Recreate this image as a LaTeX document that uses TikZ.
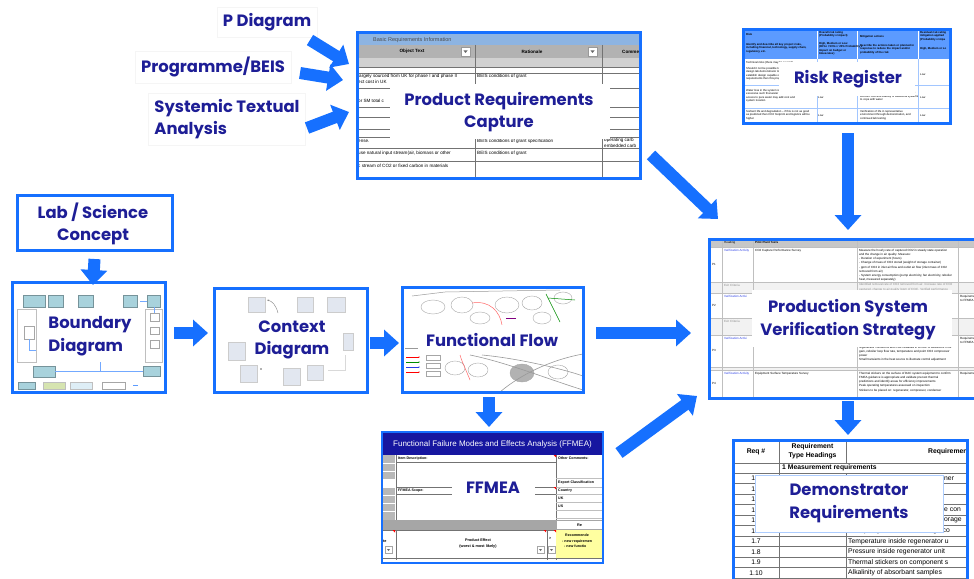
\documentclass[tikz,border=0pt]{standalone}
\usepackage{fontspec}
\setmainfont{Liberation Sans}
\newfontfamily\lblf{Poppins}
\usetikzlibrary{arrows.meta}
\definecolor{fblue}{RGB}{22,112,255}
\definecolor{navy}{RGB}{30,30,150}
\definecolor{hblue}{RGB}{141,180,226}
\definecolor{tealb}{RGB}{168,210,220}
\definecolor{greenb}{RGB}{214,228,176}
\definecolor{cyanb}{RGB}{222,238,246}
\definecolor{ffbar}{RGB}{22,22,160}
\definecolor{ctxb}{RGB}{226,231,240}
\definecolor{yel}{RGB}{255,255,160}
\definecolor{lnk}{RGB}{40,60,230}
\newcommand\fsz[2]{\fontsize{#1}{#2}\selectfont}
\begin{document}
\begin{tikzpicture}[x=1pt,y=-1pt,
  scr/.style={draw=fblue,line width=3pt,inner sep=0pt,outer sep=0pt,anchor=north west},
  lbl/.style={font=\lblf\bfseries\fsz{16.4}{22.5}, text=navy, align=center, inner sep=0pt},
  side/.style={lbl, fill=white, draw=black!4, line width=0.5pt, inner sep=6pt},
  fat/.style={draw=fblue,line width=12pt,-{Triangle[length=15pt,width=26pt]}},
  tx/.style={font=\fsz{4}{4.8}, inner sep=0pt, anchor=west, align=left},
  gl/.style={draw=black!55,line width=0.5pt},
  ll/.style={draw=black!25,line width=0.4pt},
  tb/.style={fill=tealb,draw=tealb!70!black,line width=0.3pt},
  wb/.style={fill=white,draw=black!35,line width=0.3pt},
  cb/.style={fill=ctxb,draw=black!20,line width=0.3pt},
  ov/.style={draw=black!35,line width=0.4pt},
]
\useasboundingbox (0,0) rectangle (974,578);
\clip (0,0) rectangle (974,578);
\fill[white] (0,0) rectangle (974,578);

% ---------- side labels ----------
\node[side] (pd) at (267,22) {P Diagram};
\node[side] (pb) at (213,67) {Programme/BEIS};
\node[side, align=left] (sta) at (227,119) {Systemic Textual\\Analysis};

% ---------- Product Requirements Capture ----------
\begin{scope}
\clip (357,33) rectangle (640,178);
\fill[white] (357,33) rectangle (640,178);
\fill[hblue] (357,34) rectangle (640,45);
\node[tx, font=\fsz{5.5}{6}, text=black!70] at (373,40) {Basic Requirements Information};
\fill[black!30] (357,45) rectangle (640,58);
\fill[black!18] (357,58) rectangle (640,67);
\node[tx, anchor=center, font=\bfseries\fsz{4.6}{5}] at (412,51.5) {Object Text};
\node[tx, anchor=center, font=\bfseries\fsz{4.6}{5}] at (532,51.5) {Rationale};
\node[tx, font=\bfseries\fsz{4.6}{5}] at (622,51.5) {Comments};
\foreach \xx in {461,588}{
  \filldraw[fill=white,draw=black!40,line width=0.3pt] (\xx,47) rectangle ++(9,9);
  \fill[black!60] (\xx+2.5,50.5) -- ++(4,0) -- ++(-2,2.5) -- cycle;}
\draw[gl] (475,45) -- (475,178);
\draw[gl] (602,45) -- (602,178);
\foreach \yy in {67,73,88,107,117,129,137,148,161}{\draw[gl] (357,\yy) -- (640,\yy);}
\node[tx, font=\fsz{4.6}{6.5}, anchor=north west] at (358,73.5) {largely sourced from UK for phase I and phase II\\ect cost in UK};
\node[tx, font=\fsz{4.6}{5}] at (477,76) {BEIS conditions of grant};
\node[tx, font=\fsz{4.6}{5}] at (358,101) {or SM total c};
\node[tx, font=\fsz{4.6}{5}] at (358,141) {ense.};
\node[tx, font=\fsz{4.6}{5}] at (477,141) {BEIS conditions of grant specification};
\node[tx, font=\fsz{4.6}{6}, anchor=north west] at (604,138) {operating carb\\embedded carb};
\node[tx, font=\fsz{4.6}{5}] at (358,153) {use natural input stream(air, biomass or other};
\node[tx, font=\fsz{4.6}{5}] at (477,153) {BEIS conditions of grant};
\node[tx, font=\fsz{4.6}{5}] at (358,166) {c stream of CO2 or fixed carbon in materials};
\fill[white] (390,84) rectangle (610,139);
\end{scope}
\node[scr, minimum width=283pt, minimum height=145pt] (prc) at (357,33) {};
\node[lbl] (prcl) at (499,112) {Product Requirements\\Capture};

% ---------- Risk Register ----------
\begin{scope}
\clip (743,30) rectangle (950,123);
\fill[white] (743,30) rectangle (950,123);
\fill[fblue!70] (743,30) rectangle (950,59);
\foreach \xx in {817,857,918}{\draw[white,line width=0.5pt] (\xx,30) -- (\xx,59); \draw[fblue!40,line width=0.4pt] (\xx,59) -- (\xx,123);}
\foreach \yy in {85,108}{\draw[fblue!40,line width=0.4pt] (743,\yy) -- (950,\yy);}
\begin{scope}[every node/.style={tx, font=\fsz{2.8}{3.5}, anchor=north west}]
\node at (746,33) {\bfseries Risk};
\node at (746,43) {\bfseries Identify and describe all key project risks,\\\bfseries including financial, technology, supply chain,\\\bfseries regulatory, etc.};
\node at (819,31) {\bfseries Overall risk rating\\\bfseries (Probability x Impact)};
\node at (819,42) {\bfseries High, Medium or Low\\\bfseries (80\%+ / 50\%+ / 20\% Probability x\\\bfseries Impact on budget or\\\bfseries timescales)};
\node at (860,35) {\bfseries Mitigation actions};
\node at (860,44) {\bfseries Describe the actions taken or planned in\\\bfseries response to reduce the impact and/or\\\bfseries probability of the risk};
\node at (920,31) {\bfseries Residual risk rating\\\bfseries mitigation applied\\\bfseries (Probability x Impa};
\node at (920,47) {\bfseries High, Medium or Lo};
\node at (746,61) {Technical risks (there may be several)};
\node at (746,67) {Should it not be possible to\\design lab demonstrator to\\establish design capable of\\requirements then this progr};
\node at (920,73) {Low};
\node at (746,89) {Water loss in the system is\\excessive such that water may\\access to pure water may add cost and\\system location};
\node at (818,96) {Low};
\node at (860,88) {Less water loss system, which can be\\validated as part of the Phase 2 testing; take\\account cost and viability of additional systems\\to cope with water};
\node at (920,96) {Low};
\node at (746,110) {Sorbent life and degradation -- if this is not as good\\as predicted then CO2 footprint and logistics will be\\higher};
\node at (818,114) {Low};
\node at (860,110) {Verification of life in representative\\environment through demonstration, and\\continued lab testing};
\node at (920,114) {Low};
\end{scope}
\fill[white] (779,62) rectangle (915,96);
\end{scope}
\node[scr, minimum width=207pt, minimum height=93pt] (rr) at (743,30) {};
\node[lbl] (rrl) at (848,79) {Risk Register};

% ---------- Lab / Science Concept ----------
\node[scr, minimum width=155pt, minimum height=55pt] (lab) at (17,195) {};
\node[lbl] (labl) at (93,224) {Lab / Science\\Concept};

% ---------- Boundary Diagram ----------
\begin{scope}
\clip (12,282) rectangle (165,392);
\fill[white] (12,282) rectangle (165,392);
\draw[tb] (23,295) rectangle (45,307);
\draw[tb] (48,295) rectangle (63,307);
\draw[tb] (78,295) rectangle (93,307);
\draw[tb] (123,295) rectangle (137,307);
\draw[tb] (147,295) rectangle (160,307);
\draw[ll] (17,309) rectangle (36,362);
\draw[ll] (145,309) rectangle (162,362);
\draw[wb] (24,326) rectangle (34,339);
\draw[wb] (150,313) rectangle (159,321);
\draw[wb] (150,327) rectangle (159,334);
\draw[wb] (150,340) rectangle (159,348);
\draw[tb] (33,366) rectangle (55,377);
\draw[tb] (143,366) rectangle (160,376);
\draw[fblue!60,line width=0.4pt] (55,371) -- (143,371);
\draw[fblue!60,line width=0.4pt] (100,362) -- (100,371);
\draw[fblue!60,line width=0.4pt] (154,307) -- (154,313);
\draw[fblue!60,line width=0.4pt] (140,301) -- (147,301);
\draw[fblue!60,line width=0.4pt] (29,339) -- (29,350) -- (36,350);
\draw[tb] (18,382) rectangle (35,389);
\draw[fill=greenb,draw=black!25,line width=0.3pt] (43,382) rectangle (65,389);
\draw[fill=cyanb,draw=black!25,line width=0.3pt] (70,382) rectangle (92,389);
\draw[wb] (102,382) rectangle (125,389);
\draw[fblue!70,line width=0.6pt] (133,385.5) -- (138,385.5);
\fill[white] (38,312) rectangle (132,357);
\end{scope}
\node[scr, minimum width=153pt, minimum height=110pt] (bd) at (12,282) {};
\node[lbl, align=left] (bdl) at (90,336) {Boundary\\Diagram};

% ---------- Context Diagram ----------
\begin{scope}
\clip (214,288) rectangle (367,392);
\fill[white] (214,288) rectangle (367,392);
\draw[cb] (248,297) rectangle (265,312);
\draw[cb] (297,297) rectangle (313,312);
\draw[cb] (327,297) rectangle (345,312);
\draw[cb] (343,333) rectangle (353,350);
\draw[cb] (228,342) rectangle (245,360);
\draw[cb] (240,365) rectangle (257,382);
\draw[cb] (283,368) rectangle (300,385);
\draw[cb] (307,365) rectangle (323,380);
\draw[black!50,line width=0.4pt,-{Stealth[length=2pt]}] (278,313) .. controls (276,305) and (272,301) .. (267,300);
\draw[black!15,line width=1pt] (328,370) -- (345,370) -- (345,355);
\fill[black!60] (261,369) circle (0.8);
\fill[white] (248,318) rectangle (334,361);
\end{scope}
\node[scr, minimum width=153pt, minimum height=104pt] (cd) at (214,288) {};
\node[lbl] (cdl) at (292,340) {Context\\Diagram};

% ---------- Functional Flow ----------
\begin{scope}
\clip (402,287) rectangle (583,392);
\fill[white] (402,287) rectangle (583,392);
\draw[ov] (433,307) ellipse (12 and 7);
\draw[ov] (462,305) ellipse (11 and 8);
\draw[ov] (507,305) ellipse (12 and 8);
\draw[ov] (532,303) ellipse (10 and 7);
\draw[ov] (563,298) ellipse (9 and 6);
\draw[ov] (542,318) ellipse (9 and 6);
\draw[ov] (480,318) ellipse (10 and 6);
\draw[ov] (455,368) ellipse (10 and 7);
\draw[ov] (478,370) ellipse (10 and 7);
\draw[ov, fill=black!30] (522,373) ellipse (12 and 9);
\draw[ov] (558,372) ellipse (10 and 7);
\draw[red!60,line width=0.5pt] (472,303) .. controls (490,300) and (500,312) .. (502,325);
\draw[red!60,line width=0.5pt] (460,355) .. controls (462,362) and (466,370) .. (470,380);
\draw[green!55!black,line width=0.5pt] (546,294) -- (560,322);
\draw[green!55!black,line width=0.5pt] (548,298) -- (575,300);
\draw[violet,line width=0.5pt] (506,318) -- (516,318);
\draw[black!40,line width=0.5pt] (412,296) -- (445,292) -- (560,290);
\draw[black!40,line width=0.6pt] (470,355) .. controls (505,362) and (545,378) .. (583,390);
\draw[black!40,line width=0.6pt] (482,355) .. controls (515,358) and (560,368) .. (583,376);
\draw[black!40,line width=0.6pt] (500,392) .. controls (520,375) and (550,360) .. (583,354);
\draw[black!40,line width=0.4pt] (405,348) -- (420,348);
\foreach \yy/\cc in {357/red,362/green!55!black,367/lnk,372/red}{\draw[\cc,line width=0.4pt,-{Stealth[length=1.5pt]}] (406,\yy) -- (420,\yy);}
\foreach \yy in {358,366,374}{\draw[ov] (426,\yy-2.5) rectangle (440,\yy+2.5);}
\fill[white] (418,325) rectangle (572,353);
\end{scope}
\node[scr, minimum width=181pt, minimum height=105pt] (ff) at (402,287) {};
\node[lbl] (ffl) at (492,340) {Functional Flow};

% ---------- FFMEA ----------
\begin{scope}
\clip (382,432) rectangle (603,563);
\fill[white] (382,432) rectangle (603,563);
\fill[ffbar] (382,432) rectangle (603,455);
\node[font=\fsz{8}{9}, text=white, inner sep=0pt] at (492.5,444) {Functional Failure Modes and Effects Analysis (FFMEA)};
\fill[black!28] (382,455) rectangle (395,530);
\foreach \yy in {463,471,479,487,495,503,511}{\draw[white,line width=0.6pt] (382,\yy) -- (395,\yy);}
\fill[white] (382,479) rectangle (395,487);
\draw[gl] (396,455) -- (396,560);
\draw[gl] (556,455) -- (556,560);
\draw[gl] (396,462) -- (556,462);
\draw[gl] (396,487) -- (452,487); \draw[gl] (396,494) -- (452,494);
\draw[gl] (535,487) -- (556,487); \draw[gl] (535,494) -- (556,494);
\foreach \yy in {478,487,494,502,510,518}{\draw[ll] (556,\yy) -- (603,\yy);}
\node[tx, font=\bfseries\fsz{3.6}{4}] at (398,458.5) {Item Description:};
\node[tx, font=\bfseries\fsz{3.6}{4}] at (398,491) {FFMEA Scope:};
\node[tx, font=\bfseries\fsz{3.6}{4}] at (558,458.5) {Other Comments:};
\node[tx, font=\bfseries\fsz{3.6}{4}] at (558,482.5) {Export Classification};
\node[tx, font=\bfseries\fsz{3.6}{4}] at (558,490.5) {Country};
\node[tx, font=\bfseries\fsz{3.6}{4}] at (558,498) {UK};
\node[tx, font=\bfseries\fsz{3.6}{4}] at (558,506) {US};
\fill[black!35] (382,520) rectangle (603,530);
\fill[white] (557,521) rectangle (603,529);
\node[tx, font=\bfseries\fsz{3.8}{4}] at (577,525) {Re};
\draw[gl] (382,530) -- (603,530);
\draw[gl] (547,530) -- (547,560);
\draw[gl] (382,558) -- (603,558);
\fill[yel] (556.3,530.3) rectangle (603,557.7);
\node[tx, font=\bfseries\fsz{3.8}{4}] at (383,541) {te};
\node[font=\bfseries\fsz{3.8}{5.5}, align=center, inner sep=0pt] at (478,543.5) {Product Effect\\(worst \& most likely)};
\node[tx, font=\bfseries\fsz{3.6}{5.5}, anchor=north west] at (562,534) {~~~Recommende\\- new requiremen\\~~- new functio};
\foreach \xx/\yy in {385/546,537/546,548/546}{\filldraw[fill=white,draw=black!35,line width=0.3pt] (\xx,\yy) rectangle ++(7,7); \fill[black!60] (\xx+2,\yy+3) -- ++(3,0) -- ++(-1.5,2) -- cycle;}
\node[tx, font=\bfseries\fsz{3.6}{4}] at (549,538) {>};
\foreach \xx/\yy in {395/530,546/530,556/530,556/455,556/487}{\fill[red] (\xx-2.5,\yy) -- (\xx,\yy) -- (\xx,\yy+2.5) -- cycle;}
\fill[white] (452,478) rectangle (535,500);
\end{scope}
\node[draw=fblue, line width=2pt, inner sep=0pt, outer sep=0pt, anchor=north west, minimum width=221pt, minimum height=131pt] (fm) at (382,432) {};
\node[lbl] (fml) at (493,488) {FFMEA};

% ---------- Production System Verification Strategy ----------
\begin{scope}
\clip (709,239) rectangle (974,398);
\fill[white] (709,239) rectangle (974,398);
\fill[black!22] (709,239) rectangle (974,247);
\fill[black!5] (709,282) rectangle (974,293);
\fill[black!5] (709,318) rectangle (974,335);
\fill[black!5] (709,367) rectangle (974,370);
\foreach \xx in {722,753,857,958}{\draw[ll] (\xx,239) -- (\xx,398);}
\foreach \yy in {247,282,293,318,335,367,370}{\draw[ll] (709,\yy) -- (974,\yy);}
\begin{scope}[every node/.style={tx, font=\fsz{3}{4.2}, anchor=north west}]
\node at (724,241.5) {Heading};
\node at (755,241.5) {\bfseries Pilot Plant Tests};
\node at (712,263) {P1}; \node at (712,304) {P2}; \node at (712,349) {P3}; \node at (712,382) {P4};
\node[text=lnk] at (724,249) {Verification Activity};
\node at (755,249) {CO2 Capture Performance Survey};
\node at (859,249) {Measure the hourly rate of captured CO2 in steady state operation\\and the change in air quality. Measure:\\- Duration of experiment (hours)\\- Change of mass of CO2 stored (weight of storage container)\\- ppm of CO2 in inlet air flow and outlet air flow (inlet mass of CO2\\removed from air)\\- System energy consumption (pump electricity, fan electricity, reboiler\\heat, measured separately)};
\node[text=black!45] at (724,284) {Exit Criteria};
\node[text=black!45] at (859,283.5) {Identified removal rate of CO2 removed from air. Increase rate of CO2\\captured, change to air quality (ppm of CO2). Verified performance};
\node[text=lnk] at (724,295) {Verification Activi};
\node at (960,295) {Requireme\\to FFMEA};
\node[text=black!45] at (724,320) {Exit Criteria};
\node[text=lnk] at (724,337) {Verification Activi};
\node at (960,337) {Requireme\\to FFMEA};
\node at (859,346) {regenerator conditions and CO2 released in a DAC of absorbent CO2\\gain, reboiler loop flow rate, temperature and point CO2 compressor\\power\\Small transients in the heat source to illustrate control adjustment};
\node[text=lnk] at (724,372) {Verification Activity};
\node at (755,372) {Equipment Surface Temperature Survey};
\node at (859,372) {Thermal stickers on the surface of DAC system equipment to confirm\\FMEA guidance is appropriate and validate pre-test thermal\\predictions and identify areas for efficiency improvements\\Peak operating temperatures assessed on inspection\\Stickers to be placed on: regenerator, compressor, condenser};
\node at (960,372) {Requireme};
\end{scope}
\fill[white] (752,290) rectangle (952,347);
\end{scope}
\node[scr, minimum width=268pt, minimum height=159pt] (ps) at (709,239) {};
\node[lbl] (psl) at (848,319.5) {Production System\\Verification Strategy};

% ---------- Demonstrator Requirements ----------
\begin{scope}
\clip (733,440) rectangle (967,590);
\fill[white] (733,440) rectangle (967,590);
\draw[gl] (779,440) -- (779,590);
\draw[gl] (846,440) -- (846,463);
\draw[gl] (846,473) -- (846,590);
\draw[gl] (733,463) -- (967,463);
\draw[gl] (733,473) -- (967,473);
\foreach \i in {1,...,10}{\draw[gl] (733,473+10.5*\i) -- (967,473+10.5*\i);}
\node[font=\bfseries\fsz{6.8}{8}, inner sep=0pt] at (756,451.5) {Req \#};
\node[font=\bfseries\fsz{6.8}{8.5}, align=center, inner sep=0pt] at (812.5,451.5) {Requirement\\Type Headings};
\node[font=\bfseries\fsz{6.8}{8}, inner sep=0pt, anchor=west] at (928,451.5) {Requirement};
\node[font=\bfseries\fsz{6.8}{8}, inner sep=0pt, anchor=west] at (782,468) {1 Measurement requirements};
\foreach \i in {1,...,10}{\node[font=\fsz{6.8}{8}, inner sep=0pt] at (756,478.25+10.5*\i-10.5) {1.\i};}
\begin{scope}[every node/.style={font=\fsz{6.8}{8}, inner sep=0pt, anchor=west}]
\node at (944,478.25) {ner};
\node at (944,509.75) {e con};
\node at (944,520.25) {orage};
\node at (848,530.75) {CO2 purity inside CO2 storage co};
\node at (848,541.25) {Temperature inside regenerator u};
\node at (848,551.75) {Pressure inside regenerator unit};
\node at (848,562.25) {Thermal stickers on component s};
\node at (848,572.75) {Alkalinity of absorbant samples};
\end{scope}
\end{scope}
\node[scr, minimum width=234pt, minimum height=150pt] (dr) at (733,440) {};
\node[lbl, fill=white, draw=fblue!35, line width=0.8pt, minimum width=188pt, minimum height=57pt] (drl) at (849,503.5) {Demonstrator\\Requirements};

% ---------- arrows ----------
\coordinate (a1s) at (310,40);  \coordinate (a1e) at (349,64);
\coordinate (a2s) at (300,73);  \coordinate (a2e) at (343,80);
\coordinate (a3s) at (307,128); \coordinate (a3e) at (349,112);
\draw[fat] (a1s) -- (a1e);
\draw[fat] (a2s) -- (a2e);
\draw[fat] (a3s) -- (a3e);
\draw[fat] (lab.south) ++(0,9) coordinate (a4s) -- (93,285) coordinate (a4e);
\coordinate (a5s) at (174,333); \coordinate (a5e) at (208,333);
\draw[fat] (a5s) -- (a5e);
\coordinate (a6s) at (370,343); \coordinate (a6e) at (399,343);
\draw[fat] (a6s) -- (a6e);
\coordinate (a7s) at (596,333); \coordinate (a7e) at (691,333);
\draw[fat] (a7s) -- (a7e);
\coordinate (a8s) at (489,397); \coordinate (a8e) at (489,427);
\draw[fat] (a8s) -- (a8e);
\coordinate (a9s) at (651,155); \coordinate (a9e) at (718,219);
\draw[fat] (a9s) -- (a9e);
\coordinate (a10s) at (848,133); \coordinate (a10e) at (848,230);
\draw[fat] (a10s) -- (a10e);
\coordinate (a11s) at (619,453); \coordinate (a11e) at (697,396);
\draw[fat] (a11s) -- (a11e);
\coordinate (a12s) at (848,401); \coordinate (a12e) at (848,435);
\draw[fat] (a12s) -- (a12e);
\end{tikzpicture}
\end{document}
